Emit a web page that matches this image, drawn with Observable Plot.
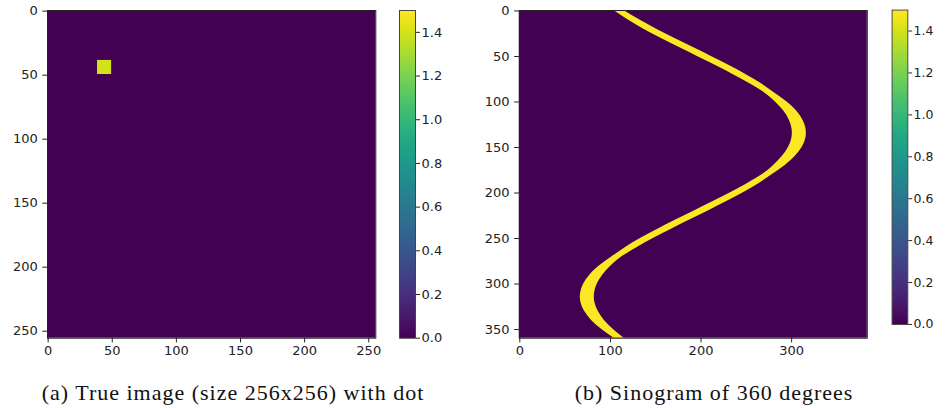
<!DOCTYPE html>
<html><head><meta charset="utf-8">
<script src="https://cdn.jsdelivr.net/npm/d3@7"></script>
<script src="https://cdn.jsdelivr.net/npm/@observablehq/plot@0.6"></script>
<style>
body{margin:0;background:#fff;}
#root{position:relative;width:946px;height:408px;overflow:hidden;background:#fff;}
.panel{position:absolute;top:0;}
.cap{position:absolute;font-family:"Liberation Serif",serif;font-size:22px;letter-spacing:1px;white-space:nowrap;color:#111;line-height:1;transform:translateX(-50%);}
</style></head><body><div id="root"></div>
<script>
// ---- data ----
const imgSize = [256, 256];
const imgTicks = [0, 50, 100, 150, 200, 250];
const dotCols = [39, 49];
const dotRows = [39, 49];
const dotValue = 1.4;
const backgroundValue = 0;

const sinoSize = [384, 360];
const sinoXTicks = [0, 100, 200, 300];
const sinoYTicks = [0, 50, 100, 150, 200, 250, 300, 350];
const angles    = [0, 10, 20, 30, 40, 50, 60, 70, 80, 90, 100, 110, 120, 130, 140, 150, 160, 170, 180,
                   190, 200, 210, 220, 230, 240, 250, 260, 270, 280, 290, 300, 310, 320, 330, 340, 350, 360];
const bandLeft  = [104.7, 119.7, 136.8, 155.7, 175.6, 196.0, 216.2, 235.7, 253.9, 270.2, 282.1, 291.3, 297.5, 300.5, 300.2, 296.5, 289.6, 279.8, 267.3,
                   250.5, 232.0, 212.3, 192.0, 171.6, 151.8, 133.1, 116.3, 101.8, 88.1, 77.5, 70.5, 67.1, 67.4, 71.5, 79.2, 90.5, 104.7];
const bandRight = [115.7, 132.5, 151.0, 170.7, 191.0, 211.4, 231.2, 249.9, 266.7, 281.2, 294.9, 305.5, 312.5, 315.9, 315.6, 311.5, 303.8, 292.6, 278.3,
                   263.3, 246.2, 227.3, 207.4, 187.0, 166.8, 147.3, 129.1, 112.8, 100.9, 91.7, 85.5, 82.5, 82.8, 86.5, 93.4, 103.3, 115.7];
const bandValue = 1.5;

const colorDomain = [0, 1.5];
const colorbarTicks = [0, 0.2, 0.4, 0.6, 0.8, 1.0, 1.2, 1.4];
const captions = ["(a) True image (size 256x256) with dot", "(b) Sinogram of 360 degrees"];

// ---- drawing ----
const root = document.getElementById("root");
const color = {type: "linear", scheme: "viridis", domain: colorDomain};
const FS = 13;
const style = {fontFamily: "'DejaVu Sans', sans-serif", fontSize: FS + "px", color: "#222", background: "transparent", overflow: "visible"};
const H = 370, MT = 10, MB = 32.3;

function place(svg, left) {
  const d = document.createElement("div");
  d.className = "panel";
  d.style.left = left + "px";
  d.appendChild(svg);
  root.appendChild(d);
}

// panel (a)
const imageA = Plot.plot({
  width: 390, height: H,
  marginLeft: 47, marginRight: 390 - 375.3, marginTop: MT, marginBottom: MB,
  style,
  x: {domain: [-0.5, imgSize[0] - 0.5]},
  y: {domain: [imgSize[1] - 0.5, -0.5]},
  color,
  marks: [
    Plot.rect([{v: backgroundValue}], {x1: () => -0.5, x2: () => imgSize[0] - 0.5, y1: () => -0.5, y2: () => imgSize[1] - 0.5, fill: "v"}),
    Plot.rect([{c0: dotCols[0], c1: dotCols[1], r0: dotRows[0], r1: dotRows[1], v: dotValue}],
      {x1: d => d.c0 - 0.5, x2: d => d.c1 + 0.5, y1: d => d.r0 - 0.5, y2: d => d.r1 + 0.5, fill: "v"}),
    Plot.frame({stroke: "#222"}),
    Plot.axisX({ticks: imgTicks, tickSize: 4.7, tickPadding: 3, fontSize: FS, label: null}),
    Plot.axisY({ticks: imgTicks, tickSize: 4.7, tickPadding: 5, fontSize: FS, label: null})
  ]
});
place(imageA, 0);

// panel (b)
const band = angles.map((a, i) => ({angle: a, left: bandLeft[i], right: bandRight[i], v: bandValue}));
const imageB = Plot.plot({
  width: 410, height: H,
  marginLeft: 48.85, marginRight: 410 - 396.8, marginTop: MT, marginBottom: MB,
  style,
  x: {domain: [-0.5, sinoSize[0] - 0.5]},
  y: {domain: [sinoSize[1] - 0.5, -0.5]},
  color,
  marks: [
    Plot.rect([{v: backgroundValue}], {x1: () => -0.5, x2: () => sinoSize[0] - 0.5, y1: () => -0.5, y2: () => sinoSize[1] - 0.5, fill: "v"}),
    Plot.areaX(band, {y: "angle", x1: "left", x2: "right", fill: "v", curve: "natural", clip: true}),
    Plot.frame({stroke: "#222"}),
    Plot.axisX({ticks: sinoXTicks, tickSize: 4.7, tickPadding: 3, fontSize: FS, label: null}),
    Plot.axisY({ticks: sinoYTicks, tickSize: 4.7, tickPadding: 5, fontSize: FS, label: null})
  ]
});
place(imageB, 470);

// colorbars
function colorbar(left, barWidth) {
  const ml = 10, mr = 40;
  return place(Plot.plot({
    width: ml + barWidth + mr, height: H,
    marginLeft: ml, marginRight: mr, marginTop: MT, marginBottom: MB,
    style,
    x: {domain: [0, 1], axis: null},
    y: {domain: colorDomain},
    color,
    marks: [
      Plot.raster({fill: (x, y) => y, x1: 0, x2: 1, y1: colorDomain[0], y2: colorDomain[1], width: 2, height: 330}),
      Plot.frame({stroke: "#444"}),
      Plot.axisY({anchor: "right", ticks: colorbarTicks, tickFormat: d3.format(".1f"), tickSize: 4, tickPadding: 2, fontSize: FS, label: null})
    ]
  }), left - ml);
}
colorbar(399.3, 16);
colorbar(892.3, 16.4);

// captions
[[233, captions[0]], [714, captions[1]]].forEach(([cx, t]) => {
  const d = document.createElement("div");
  d.className = "cap";
  d.style.left = cx + "px";
  d.style.top = "382px";
  d.textContent = t;
  root.appendChild(d);
});
</script></body></html>
